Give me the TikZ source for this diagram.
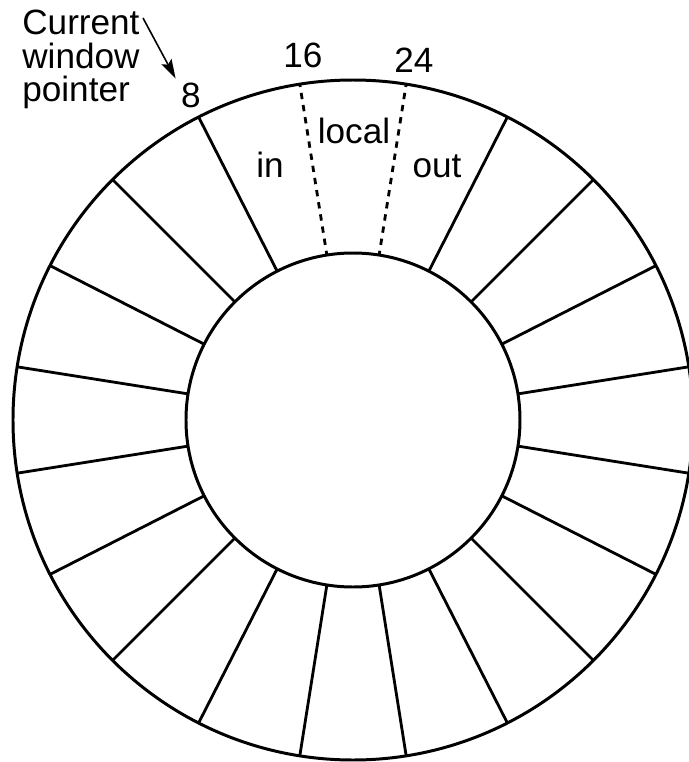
\documentclass[tikz,border=0pt]{standalone}
\usepackage{fontspec}
\setmainfont{Liberation Sans}
\usetikzlibrary{arrows.meta}
\begin{document}
\begin{tikzpicture}[x=0.02cm, y=0.02cm]
    \tikzstyle{ring} = [line width=1.7pt]
    \tikzstyle{spoke} = [line width=1.6pt]
    \tikzstyle{window} = [line width=1.6pt, dash pattern=on 3.6pt off 3.4pt, dash phase=2pt]
    \tikzstyle{lbl} = [font=\fontsize{20}{19}\selectfont, inner sep=0pt]
    \tikzstyle{pointer} = [line width=0.9pt,->,>={Stealth[length=11pt,width=6.5pt,inset=2pt]}]

    \clip (-353,-342) rectangle (336,420);

    % Register windows
    \draw [ring] (0,0) circle [radius=340];
    \draw [ring] (0,0) circle [radius=167];
    \foreach \a in {9,27,45,63,117,135,153,171,189,207,225,243,261,279,297,315,333,351}
        \draw [spoke] (\a:167) -- (\a:340);
    \draw [window] (81:340) -- (81:167);
    \draw [window] (99:340) -- (99:167);

    % Labels
    \node [lbl, anchor=north west, align=left] (ptr) at (-331,410) {Current\\window\\pointer};
    \node [lbl, anchor=base] (eight) at (-162,313) {8};
    \node [lbl, anchor=base] (sixteen) at (-50,353) {16};
    \node [lbl, anchor=base] (twentyfour) at (61,348) {24};
    \node [lbl, anchor=base] (local) at (1,277) {local};
    \node [lbl, anchor=base] (in) at (-83,243) {in};
    \node [lbl, anchor=base] (out) at (84,243) {out};

    % Pointer
    \coordinate (ptrend) at (-210,402);
    \draw [pointer] (ptrend) -- ([xshift=-3pt,yshift=2pt]eight.north west);
\end{tikzpicture}
\end{document}
